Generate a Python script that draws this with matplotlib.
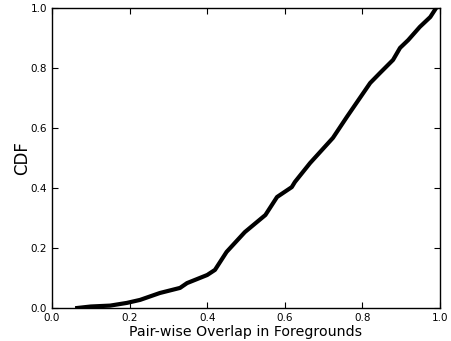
import matplotlib
matplotlib.use("Agg")
import matplotlib.pyplot as plt

overlap = [0.065, 0.10, 0.15, 0.193, 0.227, 0.278, 0.33, 0.348, 0.40, 0.42, 0.45,
           0.497, 0.55, 0.58, 0.618, 0.626, 0.665, 0.724, 0.76, 0.82, 0.845,
           0.879, 0.897, 0.918, 0.948, 0.975, 0.99]
cdf = [0.0, 0.005, 0.008, 0.017, 0.027, 0.05, 0.067, 0.083, 0.11, 0.127, 0.187,
       0.253, 0.31, 0.37, 0.403, 0.42, 0.483, 0.567, 0.637, 0.75, 0.783,
       0.827, 0.867, 0.893, 0.937, 0.97, 1.0]

xticks = [0.0, 0.2, 0.4, 0.6, 0.8, 1.0]
yticks = [0.0, 0.2, 0.4, 0.6, 0.8, 1.0]

fig = plt.figure(figsize=(4.51, 3.41), dpi=100)
ax = fig.add_axes([52/451, 33/341, 388/451, 300/341])
ax.plot(overlap, cdf, color='black', lw=3)
ax.set_xlim(0, 1)
ax.set_ylim(0, 1)
ax.set_xticks(xticks)
ax.set_yticks(yticks)
ax.set_xticklabels([f"{t:.1f}" for t in xticks])
ax.set_yticklabels([f"{t:.1f}" for t in yticks])
ax.tick_params(direction='in', top=True, right=True, length=4, labelsize=7.5, colors='black')
for s in ax.spines.values():
    s.set_linewidth(1.0)
ax.set_xlabel("Pair-wise Overlap in Foregrounds", fontsize=10.2, labelpad=1.5)
ax.set_ylabel("CDF", fontsize=12, labelpad=0)
fig.savefig("out.png", dpi=100)
